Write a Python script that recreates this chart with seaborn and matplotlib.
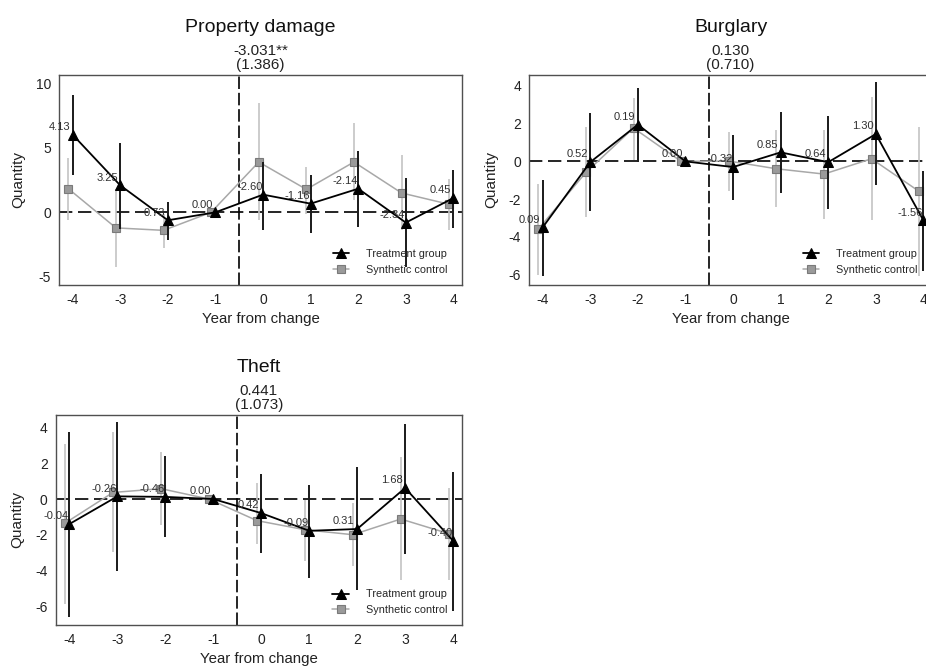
import numpy as np
import pandas as pd
import matplotlib
matplotlib.use("Agg")
import matplotlib.pyplot as plt
import seaborn as sns

# ---------------- data ----------------
years = [-4, -3, -2, -1, 0, 1, 2, 3, 4]

titles = ["Property damage", "Burglary", "Theft"]
subtitles = ["-3.031**\n(1.386)", "0.130\n(0.710)", "0.441\n(1.073)"]

pd_treat = [6.02, 2.09, -0.62, 0.0, 1.37, 0.67, 1.83, -0.80, 1.11]
pd_treat_lo = [2.87, -1.30, -2.12, 0.0, -1.34, -1.60, -1.14, -4.24, -1.21]
pd_treat_hi = [9.07, 5.35, 0.80, 0.0, 3.90, 2.87, 4.73, 2.66, 3.31]
pd_synth = [1.83, -1.21, -1.40, 0.0, 3.90, 1.78, 3.90, 1.50, 0.62]
pd_synth_lo = [-0.57, -4.24, -2.74, 0.0, -0.62, -0.10, 0.93, -1.40, -1.34]
pd_synth_hi = [4.21, 1.83, -0.10, 0.0, 8.48, 3.51, 6.95, 4.42, 2.61]
pd_labels = ["4.13", "3.25", "0.73", "0.00", "-2.60", "-1.16", "-2.14", "-2.34", "0.45"]

b_treat = [-3.50, -0.04, 1.95, 0.0, -0.30, 0.48, -0.04, 1.45, -3.13]
b_treat_lo = [-6.07, -2.65, -0.04, 0.0, -2.04, -1.65, -2.53, -1.27, -5.80]
b_treat_hi = [-0.97, 2.57, 3.89, 0.0, 1.42, 2.60, 2.42, 4.19, -0.50]
b_synth = [-3.59, -0.58, 1.77, 0.0, 0.02, -0.39, -0.67, 0.14, -1.59]
b_synth_lo = [-6.02, -2.97, 0.09, 0.0, -1.56, -2.42, -3.04, -3.13, -6.06]
b_synth_hi = [-1.20, 1.81, 3.36, 0.0, 1.54, 1.65, 1.68, 3.42, 1.80]
b_labels = ["0.09", "0.52", "0.19", "0.00", "-0.32", "0.85", "0.64", "1.30", "-1.56"]

t_treat = [-1.40, 0.15, 0.12, 0.0, -0.79, -1.78, -1.68, 0.62, -2.34]
t_treat_lo = [-6.62, -4.06, -2.13, 0.0, -3.03, -4.43, -5.12, -3.07, -6.26]
t_treat_hi = [3.74, 4.30, 2.39, 0.0, 1.42, 0.77, 1.78, 4.21, 1.50]
t_synth = [-1.35, 0.37, 0.58, 0.0, -1.21, -1.72, -2.00, -1.12, -1.94]
t_synth_lo = [-5.87, -2.99, -1.44, 0.0, -2.50, -3.50, -3.78, -4.56, -4.52]
t_synth_hi = [3.08, 3.74, 2.62, 0.0, 0.90, -0.04, -0.22, 2.36, 0.62]
t_labels = ["-0.04", "-0.26", "-0.46", "0.00", "0.42", "-0.09", "0.31", "1.68", "-0.40"]

yticks_list = [[-5, 0, 5, 10], [-6, -4, -2, 0, 2, 4], [-6, -4, -2, 0, 2, 4]]
ylims = [(-5.64, 10.65), (-6.55, 4.58), (-7.06, 4.71)]

panels = [
    (pd_treat, pd_treat_lo, pd_treat_hi, pd_synth, pd_synth_lo, pd_synth_hi, pd_labels),
    (b_treat, b_treat_lo, b_treat_hi, b_synth, b_synth_lo, b_synth_hi, b_labels),
    (t_treat, t_treat_lo, t_treat_hi, t_synth, t_synth_lo, t_synth_hi, t_labels),
]

# ---------------- style ----------------
sns.set_theme(style="white")
plt.rcParams["font.family"] = ["Liberation Sans", "DejaVu Sans"]
plt.rcParams["axes.unicode_minus"] = False

W, H = 926, 669
fig = plt.figure(figsize=(W / 100, H / 100), dpi=100)

def frac_rect(left, top, right, bottom):
    return [left / W, 1 - bottom / H, (right - left) / W, (bottom - top) / H]

rects = [
    frac_rect(59.3, 75, 462.0, 285),
    frac_rect(529.3, 75, 932.0, 285),
    frac_rect(56.0, 415, 461.7, 625),
]

TREAT = "Treatment group"
SYN = "Synthetic control"
syn_offset = 0.09
frame_col = "#505050"

for i, (rect, data) in enumerate(zip(rects, panels)):
    tr, tr_lo, tr_hi, sy, sy_lo, sy_hi, labels = data
    ax = fig.add_axes(rect)

    df = pd.DataFrame({
        "x": list(np.array(years, float) - syn_offset) + list(np.array(years, float)),
        "y": list(sy) + list(tr),
        "group": [SYN] * len(years) + [TREAT] * len(years),
    })

    # reference lines
    ax.axhline(0, color="black", lw=1.2, ls=(0, (8.0, 3.4)), zorder=1)
    ax.axvline(-0.5, color="black", lw=1.2, ls=(0, (7.5, 2.3)), zorder=1)

    # confidence intervals
    ax.vlines(np.array(years) - syn_offset, sy_lo, sy_hi, color="#c4c4c4", lw=1.2, zorder=2)
    ax.vlines(years, tr_lo, tr_hi, color="#1a1a1a", lw=1.4, zorder=4)

    sns.lineplot(data=df[df.group == SYN], x="x", y="y", ax=ax, color="#a8a8a8",
                 lw=1.1, marker="s", markersize=5.5, markerfacecolor="#9a9a9a",
                 markeredgecolor="#7a7a7a", markeredgewidth=0.8, zorder=3,
                 label=SYN, sort=False)
    sns.lineplot(data=df[df.group == TREAT], x="x", y="y", ax=ax, color="black",
                 lw=1.3, marker="^", markersize=7.2, markerfacecolor="black",
                 markeredgecolor="black", zorder=5, label=TREAT, sort=False)

    for xv, yv, lab in zip(years, tr, labels):
        ax.annotate(lab, xy=(xv, yv), xytext=(-9.6, 5.6), textcoords="offset points",
                    ha="center", va="center", fontsize=8, color="#303030", zorder=6)

    ax.set_xlim(-4.28, 4.18)
    ax.set_ylim(*ylims[i])
    ax.set_xticks(years)
    ax.set_xticklabels([str(v) for v in years])
    ax.set_yticks(yticks_list[i])
    ax.set_yticklabels([str(v) for v in yticks_list[i]])
    ax.tick_params(axis="both", direction="out", length=4, width=1, color=frame_col,
                   labelsize=10, labelcolor="#222222", pad=2)
    for s in ax.spines.values():
        s.set_color(frame_col)
        s.set_linewidth(1.0)
    ax.grid(False)

    ax.set_xlabel("Year from change", fontsize=10.8, color="#222222", labelpad=3)
    ax.set_ylabel("Quantity", fontsize=11, color="#222222")
    ax.yaxis.set_label_coords(-0.085 if i == 0 else -0.078, 0.5)

    ax.annotate(titles[i], xy=(0.5, 1), xycoords="axes fraction", xytext=(0, 34.5),
                textcoords="offset points", ha="center", va="center", fontsize=14,
                color="#111111")
    ax.annotate(subtitles[i], xy=(0.5, 1), xycoords="axes fraction", xytext=(0, 12.5),
                textcoords="offset points", ha="center", va="center", fontsize=11,
                color="#222222", linespacing=0.98)

    h, l = ax.get_legend_handles_labels()
    order = [l.index(TREAT), l.index(SYN)]
    ax.legend([h[k] for k in order], [l[k] for k in order], loc="lower right",
              bbox_to_anchor=(0.99, 0.0), frameon=False, fontsize=7.8,
              handlelength=1.55, handletextpad=1.55, labelspacing=0.5,
              borderpad=0.45)

fig.savefig("out.png", dpi=100)
